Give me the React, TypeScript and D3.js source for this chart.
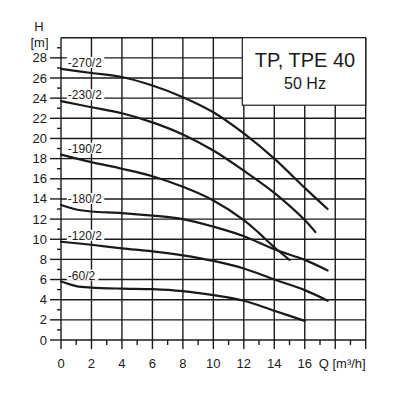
import React from 'react';
import { scaleLinear, line, curveCatmullRom } from 'd3';

// pump curves (Q in m³/h, H in m)
const curveNames = ['-270/2', '-230/2', '-190/2', '-180/2', '-120/2', '-60/2'];

const q270 = [0, 2, 4, 6, 8, 10, 12, 14, 16, 17.5];
const h270 = [26.9, 26.5, 26.1, 25.25, 24.1, 22.6, 20.5, 18.0, 15.1, 13.0];

const q230 = [0, 2, 4, 6, 8, 10, 12, 14, 16, 16.7];
const h230 = [23.7, 23.1, 22.5, 21.6, 20.4, 18.8, 16.8, 14.6, 11.9, 10.7];

const q190 = [0, 2, 4, 6, 8, 10, 12, 13, 14, 15];
const h190 = [18.4, 17.65, 17.0, 16.25, 15.2, 13.85, 11.9, 10.6, 9.2, 7.95];

const q180 = [0, 1, 2, 4, 6, 8, 10, 12, 14, 16, 17.5];
const h180 = [13.4, 12.95, 12.75, 12.6, 12.35, 12.0, 11.25, 10.3, 9.0, 7.95, 6.9];

const q120 = [0, 2, 4, 6, 8, 10, 12, 14, 16, 17.5];
const h120 = [9.75, 9.45, 9.1, 8.8, 8.4, 7.85, 7.1, 6.0, 4.95, 3.9];

const q60 = [0, 1, 2, 4, 6, 8, 10, 12, 14, 16];
const h60 = [5.8, 5.35, 5.2, 5.1, 5.05, 4.85, 4.45, 3.9, 2.9, 1.9];

const flows = [q270, q230, q190, q180, q120, q60];
const heads = [h270, h230, h190, h180, h120, h60];

// axes
const xGrid = [0, 2, 4, 6, 8, 10, 12, 14, 16, 18, 20];
const xLabels = [0, 2, 4, 6, 8, 10, 12, 14, 16];
const xMinor = [1, 3, 5, 7, 9, 11, 13, 15, 17, 19];
const yGrid = [0, 2, 4, 6, 8, 10, 12, 14, 16, 18, 20, 22, 24, 26, 28, 30];
const yLabels = [0, 2, 4, 6, 8, 10, 12, 14, 16, 18, 20, 22, 24, 26, 28];
const yMinor = [1, 3, 5, 7, 9, 11, 13, 15, 17, 19, 21, 23, 25, 27, 29];

const title = 'TP, TPE 40';
const subtitle = '50 Hz';

const font = '"Liberation Sans", Arial, sans-serif';
const ink = '#1a1a1a';

export default function App() {
  const left = 61, right = 365.7, top = 37.7, bottom = 340;
  const x = scaleLinear().domain([0, 20]).range([left, right]);
  const y = scaleLinear().domain([0, 30]).range([bottom, top]);

  const lineGen = line<[number, number]>()
    .x(d => x(d[0]))
    .y(d => y(d[1]))
    .curve(curveCatmullRom.alpha(0.5));

  // title box sits over the top-right grid cells
  const boxX0 = x(11.9), boxX1 = x(20), boxY0 = y(30), boxY1 = y(23.3);

  return (
    <svg width={400} height={400} style={{ position: 'absolute', left: 0, top: 0, background: '#fff' }}
      fontFamily={font}>
      {/* grid */}
      {xGrid.map(v => (
        <line key={'gx' + v} x1={x(v)} x2={x(v)} y1={top} y2={bottom} stroke={ink} strokeWidth={1.4} />
      ))}
      {yGrid.map(v => (
        <line key={'gy' + v} x1={left} x2={right} y1={y(v)} y2={y(v)} stroke={ink} strokeWidth={1.4} />
      ))}

      {/* title box */}
      <rect x={boxX0} y={boxY0} width={boxX1 - boxX0} height={boxY1 - boxY0}
        fill="#fff" stroke={ink} strokeWidth={1.2} />
      <text x={(boxX0 + boxX1) / 2 + 1} y={boxY0 + 29} textAnchor="middle" fontSize={20} fill={ink}>{title}</text>
      <text x={(boxX0 + boxX1) / 2 + 1} y={boxY0 + 51} textAnchor="middle" fontSize={16} fill={ink}>{subtitle}</text>

      {/* y axis ticks */}
      {yLabels.map(v => (
        <g key={'yl' + v}>
          <line x1={left - 11} x2={left} y1={y(v)} y2={y(v)} stroke={ink} strokeWidth={1.4} />
          <text x={left - 14} y={y(v) + 4.5} textAnchor="end" fontSize={13} fill={ink}>{v}</text>
        </g>
      ))}
      {yMinor.map(v => (
        <line key={'ym' + v} x1={left - 4} x2={left} y1={y(v)} y2={y(v)} stroke={ink} strokeWidth={1.4} />
      ))}
      <text x={39} y={31} textAnchor="middle" fontSize={13} fill={ink}>H</text>
      <text x={39.5} y={47} textAnchor="middle" fontSize={13} fill={ink}>[m]</text>

      {/* x axis ticks */}
      {xGrid.map(v => (
        <line key={'xt' + v} x1={x(v)} x2={x(v)} y1={bottom} y2={bottom + 9} stroke={ink} strokeWidth={1.4} />
      ))}
      {xMinor.map(v => (
        <line key={'xm' + v} x1={x(v)} x2={x(v)} y1={bottom} y2={bottom + 5} stroke={ink} strokeWidth={1.4} />
      ))}
      {xLabels.map(v => (
        <text key={'xl' + v} x={x(v)} y={bottom + 28} textAnchor="middle" fontSize={13} fill={ink}>{v}</text>
      ))}
      <text x={right} y={bottom + 28} textAnchor="end" fontSize={13} fill={ink}>Q [m³/h]</text>

      {/* curves */}
      {flows.map((qs, i) => (
        <path key={'c' + i} d={lineGen(qs.map((q, j) => [q, heads[i][j]] as [number, number])) || ''}
          fill="none" stroke={ink} strokeWidth={2.2} strokeLinecap="round" />
      ))}

      {/* curve labels with white backing */}
      {curveNames.map((name, i) => {
        const lx = x(0.45);
        const ly = y(heads[i][0]) - 2;
        const w = name.length * 5.9;
        return (
          <g key={'lb' + i}>
            <rect x={lx - 1} y={ly - 10} width={w + 2} height={11} fill="#fff" />
            <text x={lx} y={ly} fontSize={12} fill={ink}>{name}</text>
          </g>
        );
      })}
    </svg>
  );
}
